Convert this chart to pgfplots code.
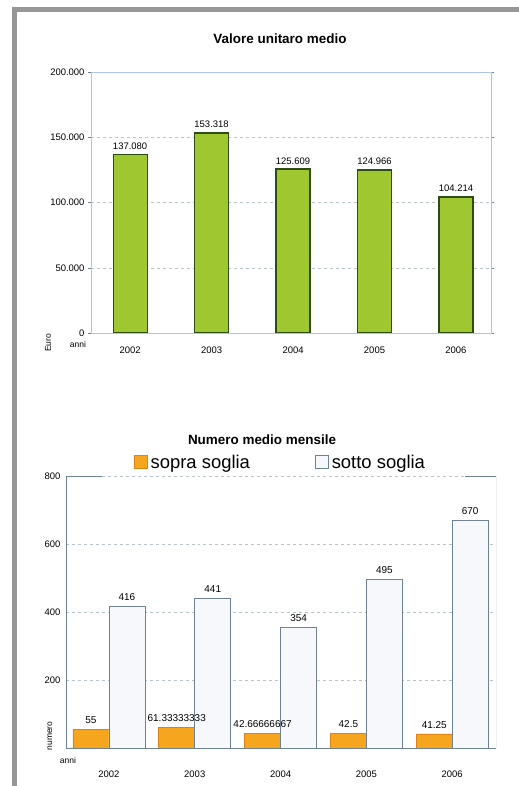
\documentclass[border=0pt]{standalone}
\usepackage{pgfplots}
\pgfplotsset{compat=1.18}
\usepackage{fontspec}
\setmainfont{Liberation Sans}
\definecolor{framegray}{RGB}{150,150,150}
\definecolor{verde}{RGB}{158,199,48}
\definecolor{verdescuro}{RGB}{45,75,20}
\definecolor{arancio}{RGB}{246,166,30}
\definecolor{arancioscuro}{RGB}{222,130,20}
\definecolor{chiaro}{RGB}{246,248,252}
\definecolor{ardesia}{RGB}{110,130,150}
\definecolor{assi}{RGB}{170,200,225}
\definecolor{griglia}{RGB}{185,195,205}

\begin{document}
\begin{tikzpicture}
\useasboundingbox (0,0) rectangle (519bp,786bp);
\fill[framegray] (12bp,0) rectangle (17bp,779bp);
\fill[framegray] (12bp,774bp) rectangle (519bp,779bp);

% grafico superiore
\begin{axis}[
  at={(91bp,453bp)}, anchor=south west, scale only axis,
  width=400bp, height=261bp,
  ybar, bar width=34bp,
  xmin=-0.48, xmax=4.43, ymin=0, ymax=200000,
  xtick={0,1,2,3,4}, xticklabels={2002,2003,2004,2005,2006},
  ytick={0,50000,100000,150000,200000},
  scaled y ticks=false,
  /pgf/number format/assume math mode=true,
  yticklabel style={/pgf/number format/.cd,fixed,1000 sep={.}},
  tick label style={font=\fontsize{9.5}{11}\selectfont},
  xticklabel style={yshift=-7bp},
  major x tick style={draw=none},
  major y tick style={draw=ardesia},
  tick align=outside, major tick length=3bp,
  axis line style={assi},
  ymajorgrids, grid style={dashed,griglia},
  nodes near coords, point meta=explicit symbolic,
  every node near coord/.append style={font=\fontsize{9.5}{11}\selectfont,black,anchor=south,yshift=1bp},
]
\addplot[fill=verde, draw=verdescuro, line width=1.2bp] coordinates {
  (0,137080) [137.080]
  (1,153318) [153.318]
  (2,125609) [125.609]
  (3,124966) [124.966]
  (4,104214) [104.214]
};
\end{axis}
\node[font=\bfseries\fontsize{13.5}{15}\selectfont] at (280bp,747bp) {Valore unitaro medio};
\node[font=\fontsize{8.5}{9}\selectfont] at (78bp,442bp) {anni};
\node[font=\fontsize{8.5}{9}\selectfont, rotate=90] at (48bp,443bp) {Euro};

% grafico inferiore
\begin{axis}[
  at={(66bp,38bp)}, anchor=south west, scale only axis,
  width=430bp, height=272bp,
  ybar=0pt, bar width=36bp,
  xmin=-0.5, xmax=4.51, ymin=0, ymax=800,
  axis x line*=bottom, axis y line*=left,
  xtick={0,1,2,3,4}, xticklabels={2002,2003,2004,2005,2006},
  ytick={200,400,600,800},
  /pgf/number format/assume math mode=true,
  tick label style={font=\fontsize{9.5}{11}\selectfont},
  xticklabel style={yshift=-15bp},
  yticklabel style={xshift=-2bp},
  major x tick style={draw=none},
  major y tick style={draw=none},
  axis line style={ardesia},
  ymajorgrids, grid style={dashed,griglia},
  nodes near coords, point meta=explicit symbolic,
  every node near coord/.append style={font=\fontsize{10}{11}\selectfont,black,anchor=south,yshift=2bp},
  legend columns=2,
  legend style={at={(0.50,1.051)}, anchor=center, draw=none, fill=none,
    font=\fontsize{18.5}{20}\selectfont,
    nodes={inner xsep=3bp},
    /tikz/every even column/.append style={column sep=62bp}},
  legend image code/.code={\draw[#1] (0bp,-6.5bp) rectangle (13bp,6.5bp);},
]
\addplot[fill=arancio, draw=arancioscuro, line width=0.6bp] coordinates {
  (0,55) [55]
  (1,61.33333333) [61.33333333]
  (2,42.66666667) [42.66666667]
  (3,42.5) [42.5]
  (4,41.25) [41.25]
};
\addplot[fill=chiaro, draw=ardesia, line width=0.8bp] coordinates {
  (0,416) [416]
  (1,441) [441]
  (2,354) [354]
  (3,495) [495]
  (4,670) [670]
};
\legend{sopra soglia, sotto soglia}
\draw[ardesia] (rel axis cs:1,0) -- (rel axis cs:1,1) -- (rel axis cs:0.928,1);
\draw[ardesia] (rel axis cs:0,1) -- (rel axis cs:0.084,1);
\end{axis}
\node[font=\bfseries\fontsize{13.5}{15}\selectfont] at (262bp,346bp) {Numero medio mensile};
\node[font=\fontsize{8.5}{9}\selectfont] at (68bp,26bp) {anni};
\node[font=\fontsize{8.5}{9}\selectfont, rotate=90] at (50bp,50bp) {numero};
\end{tikzpicture}
\end{document}
